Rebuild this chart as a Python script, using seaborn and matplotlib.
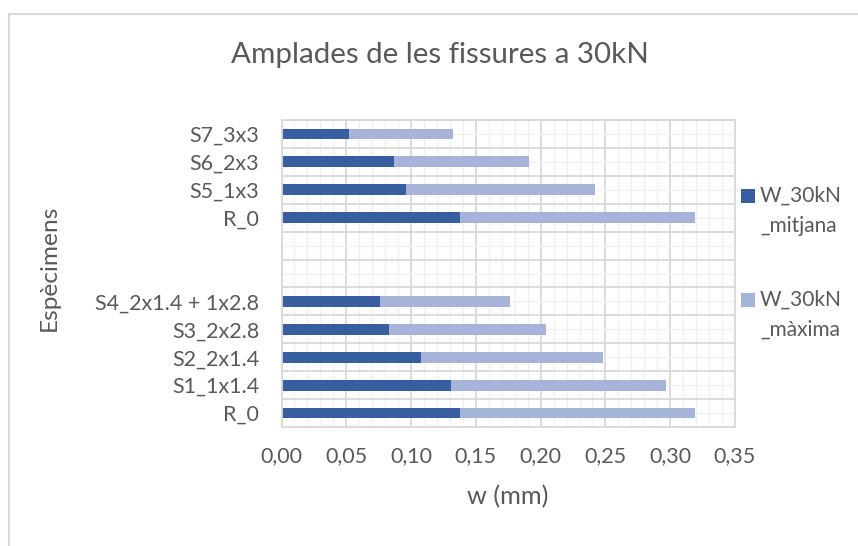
import numpy as np
import pandas as pd
import matplotlib
matplotlib.use("Agg")
import matplotlib.pyplot as plt
from matplotlib.patches import Rectangle
from matplotlib.ticker import FuncFormatter, MultipleLocator, FixedLocator
import seaborn as sns

# Specimens, listed top to bottom; two empty slots separate the two series of tests
slots = ["S7_3x3", "S6_2x3", "S5_1x3", "R_0_b", "gap_1", "gap_2",
         "S4_2x1.4 + 1x2.8", "S3_2x2.8", "S2_2x1.4", "S1_1x1.4", "R_0_a"]
slot_labels = ["S7_3x3", "S6_2x3", "S5_1x3", "R_0", "", "",
               "S4_2x1.4 + 1x2.8", "S3_2x2.8", "S2_2x1.4", "S1_1x1.4", "R_0"]

specimens = ["S7_3x3", "S6_2x3", "S5_1x3", "R_0_b",
             "S4_2x1.4 + 1x2.8", "S3_2x2.8", "S2_2x1.4", "S1_1x1.4", "R_0_a"]
w_mitjana = [0.052, 0.087, 0.096, 0.138, 0.076, 0.083, 0.108, 0.131, 0.138]
w_maxima = [0.080, 0.104, 0.146, 0.181, 0.100, 0.121, 0.140, 0.166, 0.181]

x_ticks = [0.00, 0.05, 0.10, 0.15, 0.20, 0.25, 0.30, 0.35]

DARK = "#365EA0"
LIGHT = "#A7B4DA"
TEXT = "#595959"
GRID_MAJOR = "#D9D9D9"
GRID_MINOR = "#F0F0F0"

df = pd.DataFrame({"slot": specimens, "mitjana": w_mitjana, "maxima": w_maxima})
df["total"] = df["mitjana"] + df["maxima"]

sns.set_theme(style="white")
plt.rcParams["font.family"] = ["Lato", "DejaVu Sans"]

W, H = 858, 546
fig = plt.figure(figsize=(W / 100, H / 100), dpi=100)
ax = fig.add_axes([281.5 / W, 1 - 427 / H, (735 - 281.5) / W, (427 - 120) / H])

def fx(px):
    return px / W

def fy(py):
    return 1 - py / H

# Stacked bars: the lighter segment is drawn as the cumulative total, the mean over it
sns.barplot(data=df, y="slot", x="total", order=slots, orient="h", color=LIGHT,
            saturation=1, width=0.385, errorbar=None, linewidth=0, ax=ax)
sns.barplot(data=df, y="slot", x="mitjana", order=slots, orient="h", color=DARK,
            saturation=1, width=0.385, errorbar=None, linewidth=0, ax=ax)

ax.set_xlim(0, 0.35)
ax.set_ylim(len(slots) - 0.5, -0.5)
ax.xaxis.set_major_locator(FixedLocator(x_ticks))
ax.xaxis.set_minor_locator(MultipleLocator(0.01))
ax.xaxis.set_major_formatter(FuncFormatter(lambda v, p: f"{v:.2f}".replace(".", ",")))
ax.set_yticks(range(len(slots)))
ax.set_yticklabels(slot_labels)
ax.yaxis.set_minor_locator(FixedLocator(np.arange(-0.5, len(slots), 1.0)))

ax.set_axisbelow(True)
ax.grid(which="major", axis="x", color=GRID_MAJOR, linewidth=1.3)
ax.grid(which="minor", axis="x", color=GRID_MINOR, linewidth=1.0)
ax.grid(which="minor", axis="y", color=GRID_MAJOR, linewidth=1.3)
ax.grid(which="major", axis="y", color=GRID_MINOR, linewidth=1.0)
for s in ax.spines.values():
    s.set_color(GRID_MAJOR)
    s.set_linewidth(1.3)

TICK_SIZE = 15.5
ax.tick_params(which="both", length=0)
ax.tick_params(axis="x", labelsize=TICK_SIZE, labelcolor=TEXT, pad=14)
ax.tick_params(axis="y", labelsize=TICK_SIZE, labelcolor=TEXT, pad=16)

ax.set_xlabel("")
ax.set_ylabel("")
xlab = fig.text(fx(508), fy(497), "w (mm)", ha="center", va="center", fontsize=17, color=TEXT)
ylab = fig.text(fx(49), fy(268), "Espècimens", ha="center", va="center", rotation=90,
                fontsize=17, color=TEXT)
title = fig.text(fx(440), fy(55), "Amplades de les fissures a 30kN", ha="center",
                 va="center", fontsize=21, color=TEXT)

# Legend, with each series name wrapped over two lines
legend_texts = []
legend_items = [(DARK, "W_30kN", "_mitjana", 196), (LIGHT, "W_30kN", "_màxima", 300)]
for color, line1, line2, cy in legend_items:
    fig.patches.append(Rectangle((fx(741), fy(cy + 7)), 14 / W, 14 / H, facecolor=color,
                                 edgecolor="none", transform=fig.transFigure, figure=fig))
    t1 = fig.text(fx(760), fy(cy), line1, ha="left", va="center", fontsize=TICK_SIZE, color=TEXT)
    t2 = fig.text(fx(760), fy(cy + 30), line2, ha="left", va="center", fontsize=TICK_SIZE, color=TEXT)
    legend_texts += [t1, t2]

# Size the free-standing texts to their intended pixel extents
fig.canvas.draw()
renderer = fig.canvas.get_renderer()

def fit_length(t, length_px, vertical=False):
    bb = t.get_window_extent(renderer)
    cur = bb.height if vertical else bb.width
    t.set_fontsize(t.get_fontsize() * length_px / cur)

fit_length(title, 417)
fit_length(xlab, 81)
fit_length(ylab, 126, vertical=True)
scale = 82 / legend_texts[0].get_window_extent(renderer).width
for t in legend_texts:
    t.set_fontsize(t.get_fontsize() * scale)

# Chart frame
fig.patches.append(Rectangle((fx(8.5), fy(H + 5)), (W + 10) / W, (H + 5 - 13.5) / H,
                             facecolor="none", edgecolor=GRID_MAJOR, linewidth=1.5,
                             transform=fig.transFigure, figure=fig))

fig.savefig("out.png", dpi=100, facecolor="white")
